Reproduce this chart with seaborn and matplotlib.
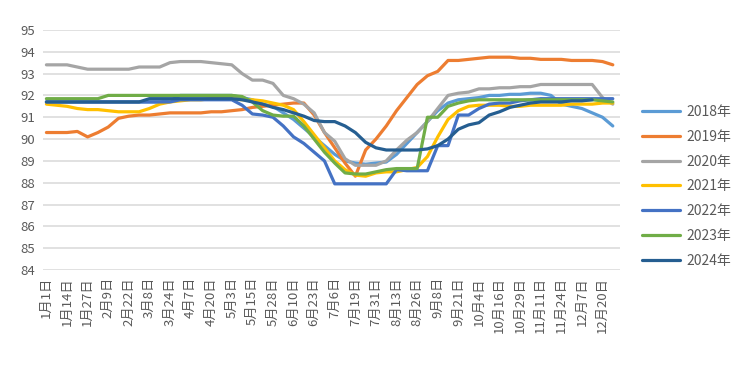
import numpy as np
import pandas as pd
import seaborn as sns
import matplotlib.pyplot as plt

# tick labels (every second data point carries a label)
tick_labels = ["1月1日", "1月14日", "1月27日", "2月9日", "2月22日", "3月8日", "3月24日",
               "4月7日", "4月20日", "5月3日", "5月15日", "5月28日", "6月10日", "6月23日",
               "7月6日", "7月19日", "7月31日", "8月13日", "8月26日", "9月8日", "9月21日",
               "10月4日", "10月16日", "10月29日", "11月11日", "11月24日", "12月7日", "12月20日"]

y2018 = [91.7, 91.7, 91.7, 91.7, 91.7, 91.7, 91.7, 91.7, 91.7, 91.7,
         91.7, 91.7, 91.75, 92.0, 92.0, 92.0, 92.0, 92.0, 92.0, 91.9,
         91.8, 91.6, 91.5, 91.2, 90.9, 90.5, 90.1, 89.7, 89.3, 89.0,
         88.9, 88.85, 88.9, 88.95, 89.3, 89.8, 90.3, 90.8, 91.3, 91.65,
         91.8, 91.85, 91.9, 92.0, 92.0, 92.05, 92.05, 92.1, 92.1, 92.0,
         91.6, 91.5, 91.4, 91.2, 91.0, 90.6]
y2019 = [90.3, 90.3, 90.3, 90.35, 90.1, 90.3, 90.55, 90.95, 91.05, 91.1,
         91.1, 91.15, 91.2, 91.2, 91.2, 91.2, 91.25, 91.25, 91.3, 91.35,
         91.45, 91.5, 91.55, 91.6, 91.65, 91.65, 91.1, 90.3, 89.6, 88.9,
         88.3, 89.5, 90.0, 90.6, 91.3, 91.9, 92.5, 92.9, 93.1, 93.6,
         93.6, 93.65, 93.7, 93.75, 93.75, 93.75, 93.7, 93.7, 93.65, 93.65,
         93.65, 93.6, 93.6, 93.6, 93.55, 93.4]
y2020 = [93.4, 93.4, 93.4, 93.3, 93.2, 93.2, 93.2, 93.2, 93.2, 93.3,
         93.3, 93.3, 93.5, 93.55, 93.55, 93.55, 93.5, 93.45, 93.4, 93.0,
         92.7, 92.7, 92.55, 92.0, 91.85, 91.6, 91.2, 90.3, 89.9, 89.1,
         88.8, 88.8, 88.8, 89.0, 89.5, 89.95, 90.3, 90.8, 91.4, 92.0,
         92.1, 92.15, 92.3, 92.3, 92.35, 92.35, 92.4, 92.4, 92.5, 92.5,
         92.5, 92.5, 92.5, 92.5, 91.9, 91.6]
y2021 = [91.6, 91.55, 91.5, 91.4, 91.35, 91.35, 91.3, 91.25, 91.25, 91.25,
         91.4, 91.6, 91.7, 91.75, 91.8, 91.8, 91.85, 91.85, 91.85, 91.8,
         91.8, 91.75, 91.65, 91.55, 91.35, 90.8, 90.2, 89.6, 89.0, 88.6,
         88.35, 88.3, 88.45, 88.5, 88.5, 88.6, 88.7, 89.2, 90.1, 90.9,
         91.3, 91.5, 91.55, 91.55, 91.55, 91.5, 91.5, 91.55, 91.55, 91.55,
         91.55, 91.6, 91.6, 91.6, 91.65, 91.65]
y2022 = [91.7, 91.7, 91.7, 91.7, 91.7, 91.7, 91.7, 91.7, 91.7, 91.7,
         91.7, 91.7, 91.7, 91.8, 91.8, 91.8, 91.8, 91.8, 91.8, 91.55,
         91.15, 91.1, 91.0, 90.6, 90.1, 89.8, 89.4, 89.0, 87.95, 87.95,
         87.95, 87.95, 87.95, 87.95, 88.6, 88.55, 88.55, 88.55, 89.7, 89.7,
         91.1, 91.1, 91.4, 91.6, 91.65, 91.65, 91.75, 91.8, 91.85, 91.85,
         91.85, 91.85, 91.85, 91.85, 91.85, 91.85]
y2023 = [91.85, 91.85, 91.85, 91.85, 91.85, 91.85, 92.0, 92.0, 92.0, 92.0,
         92.0, 92.0, 92.0, 92.0, 92.0, 92.0, 92.0, 92.0, 92.0, 91.95,
         91.7, 91.3, 91.1, 91.05, 91.05, 90.6, 90.0, 89.4, 88.9, 88.45,
         88.4, 88.4, 88.5, 88.6, 88.65, 88.65, 88.65, 91.0, 91.0, 91.5,
         91.65, 91.75, 91.8, 91.8, 91.8, 91.8, 91.8, 91.8, 91.8, 91.8,
         91.8, 91.8, 91.8, 91.8, 91.75, 91.7]
y2024 = [91.7, 91.7, 91.7, 91.7, 91.7, 91.7, 91.7, 91.7, 91.7, 91.7,
         91.85, 91.85, 91.85, 91.85, 91.85, 91.85, 91.85, 91.85, 91.85, 91.8,
         91.7, 91.6, 91.45, 91.35, 91.2, 91.05, 90.85, 90.8, 90.8, 90.6,
         90.3, 89.85, 89.6, 89.5, 89.5, 89.5, 89.5, 89.55, 89.7, 90.0,
         90.45, 90.65, 90.75, 91.1, 91.25, 91.45, 91.55, 91.65, 91.7, 91.7,
         91.7, 91.75, 91.75, 91.8, np.nan, np.nan]

years = ["2018年", "2019年", "2020年", "2021年", "2022年", "2023年", "2024年"]
colors = ["#5B9BD5", "#ED7D31", "#A5A5A5", "#FFC000", "#4472C4", "#70AD47", "#255E91"]
series = [y2018, y2019, y2020, y2021, y2022, y2023, y2024]

frames = []
for name, vals in zip(years, series):
    frames.append(pd.DataFrame({"pos": np.arange(len(vals)), "value": vals, "year": name}))
df = pd.concat(frames).dropna()

sns.set_style("white")
plt.rcParams["font.family"] = ["Noto Sans CJK SC", "DejaVu Sans"]
text_color = "#595959"

fig = plt.figure(figsize=(7.47, 3.69), dpi=100)
ax = fig.add_axes([0.058, 0.268, 0.772, 0.651])

sns.lineplot(data=df, x="pos", y="value", hue="year", hue_order=years,
             palette=colors, linewidth=2.3, ax=ax)

ax.set_ylim(84, 95)
ax.set_yticks(range(84, 96))
ax.set_xlim(-0.3, 55.7)
ax.set_xticks(np.arange(0, 2 * len(tick_labels), 2))
ax.set_xticklabels(tick_labels, rotation=90)
ax.tick_params(axis="both", length=0, labelsize=9.5, colors=text_color)
ax.tick_params(axis="y", pad=6)
ax.tick_params(axis="x", pad=5)
ax.grid(axis="y", color="#D9D9D9", linewidth=1.1)
ax.grid(axis="x", visible=False)
ax.set_axisbelow(True)
for s in ax.spines.values():
    s.set_visible(False)
ax.set_xlabel("")
ax.set_ylabel("")

leg = ax.legend(loc="center left", bbox_to_anchor=(0.859, 0.495),
                bbox_transform=fig.transFigure, frameon=False,
                borderpad=0, borderaxespad=0, handlelength=2.75,
                handletextpad=0.45, labelspacing=0.78, fontsize=10)
for t in leg.get_texts():
    t.set_color(text_color)
for h in leg.get_lines():
    h.set_linewidth(2.3)

fig.savefig("out.png", dpi=100)
